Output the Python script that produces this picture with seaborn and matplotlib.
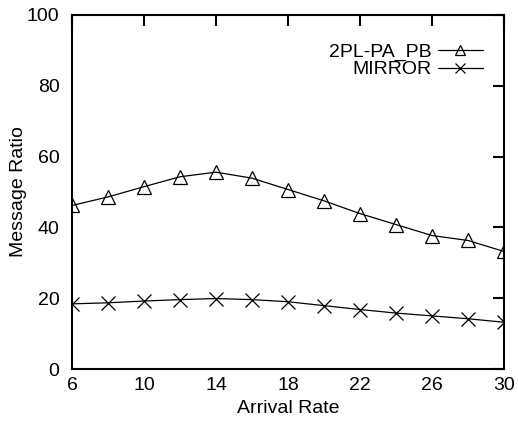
import matplotlib
matplotlib.use("Agg")
import matplotlib.pyplot as plt
import seaborn as sns
import pandas as pd

arrival_rate = [6, 8, 10, 12, 14, 16, 18, 20, 22, 24, 26, 28, 30]
pl_pa_pb = [46.2, 48.6, 51.5, 54.3, 55.6, 53.9, 50.7, 47.5, 43.9, 40.8, 37.7, 36.3, 33.2]
mirror = [18.4, 18.7, 19.2, 19.6, 19.9, 19.6, 19.0, 17.9, 16.8, 15.8, 15.0, 14.2, 13.2]
x_ticks = [6, 10, 14, 18, 22, 26, 30]
y_ticks = [0, 20, 40, 60, 80, 100]

sns.set_theme(style="white")
plt.rcParams['font.family'] = ['Liberation Sans', 'DejaVu Sans']
plt.rcParams['text.color'] = 'black'
plt.rcParams['axes.labelcolor'] = 'black'

fig = plt.figure(figsize=(5.18, 4.24), dpi=100)
ax = fig.add_axes([0.139, 0.1297, 0.834, 0.835])

df1 = pd.DataFrame({"x": arrival_rate, "y": pl_pa_pb})
df2 = pd.DataFrame({"x": arrival_rate, "y": mirror})
sns.lineplot(data=df1, x="x", y="y", ax=ax, color="black", lw=0.9,
             marker="^", markersize=10, markerfacecolor="none",
             markeredgecolor="black", markeredgewidth=0.9, label="2PL-PA_PB")
sns.lineplot(data=df2, x="x", y="y", ax=ax, color="black", lw=0.9,
             marker="x", markersize=10, markeredgecolor="black",
             markeredgewidth=0.9, label="MIRROR")

ax.set_xlim(6, 30)
ax.set_ylim(0, 100)
ax.set_xticks(x_ticks)
ax.set_yticks(y_ticks)
ax.set_xlabel("Arrival Rate", fontsize=14, labelpad=4, color="black")
ax.set_ylabel("Message Ratio", fontsize=14, labelpad=0, color="black")
ax.tick_params(direction="in", length=8, width=1.5, top=True, right=True,
               labelsize=14, colors="black", pad=6)
ax.tick_params(axis="y", pad=9)
for s in ax.spines.values():
    s.set_linewidth(1.5)
    s.set_color("black")

leg = ax.legend(loc="upper right", bbox_to_anchor=(0.951, 0.921),
                frameon=False, markerfirst=False, fontsize=14,
                handlelength=2.3, borderaxespad=0, borderpad=0,
                labelspacing=0.0, handletextpad=0.35, markerscale=0.75)
for t in leg.get_texts():
    t.set_color("black")

fig.savefig("out.png", dpi=100)
